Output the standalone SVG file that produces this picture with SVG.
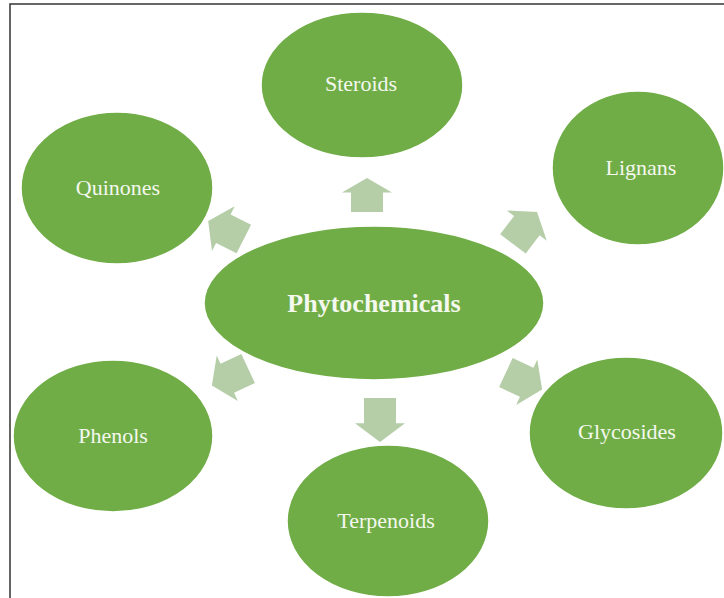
<svg xmlns="http://www.w3.org/2000/svg" xmlns:xlink="http://www.w3.org/1999/xlink" width="724" height="598" viewBox="0 0 724 598">
<style>
.node{fill:#70AD47;stroke:#ffffff;stroke-width:1.5}
.lbl{font-family:"Liberation Serif","Times New Roman",serif;font-size:22px;fill:#F4F8EE;text-anchor:middle}
.main{font-size:26px;font-weight:bold}
.arr{fill:#B5CEA8}
.frame{fill:none;stroke:#333333;stroke-width:1.5}
</style>
<defs>
<polygon id="a" points="0,-20 25,-3 16,-3 16,20 -16,20 -16,-3 -25,-3"/>
</defs>
<rect width="724" height="598" fill="#ffffff"/>
<polyline class="frame" points="10,598 10,4 724,4"/>
<g id="connectors" class="arr">
<use xlink:href="#a" href="#a" transform="translate(367,195) scale(1,0.85)"/>
<use xlink:href="#a" href="#a" transform="translate(525,228) rotate(37)"/>
<use xlink:href="#a" href="#a" transform="translate(524,381) rotate(115)"/>
<use xlink:href="#a" href="#a" transform="translate(380,420) rotate(180) scale(1,1.1)"/>
<use xlink:href="#a" href="#a" transform="translate(230,377) rotate(245)"/>
<use xlink:href="#a" href="#a" transform="translate(226,230) rotate(-63)"/>
</g>
<g id="steroids"><ellipse class="node" cx="362" cy="85" rx="101" ry="73"/><text class="lbl" x="361" y="91">Steroids</text></g>
<g id="quinones"><ellipse class="node" cx="117" cy="188" rx="96" ry="76"/><text class="lbl" x="118" y="195">Quinones</text></g>
<g id="lignans"><ellipse class="node" cx="638" cy="168" rx="86" ry="77"/><text class="lbl" x="641" y="175">Lignans</text></g>
<g id="phytochemicals"><ellipse class="node" cx="374" cy="303" rx="170" ry="77"/><text class="lbl main" x="374" y="312">Phytochemicals</text></g>
<g id="phenols"><ellipse class="node" cx="113" cy="436" rx="100" ry="76"/><text class="lbl" x="113" y="443">Phenols</text></g>
<g id="glycosides"><ellipse class="node" cx="626" cy="433" rx="97" ry="76"/><text class="lbl" x="627" y="439">Glycosides</text></g>
<g id="terpenoids"><ellipse class="node" cx="388" cy="521" rx="101" ry="76"/><text class="lbl" x="386" y="528">Terpenoids</text></g>
</svg>
